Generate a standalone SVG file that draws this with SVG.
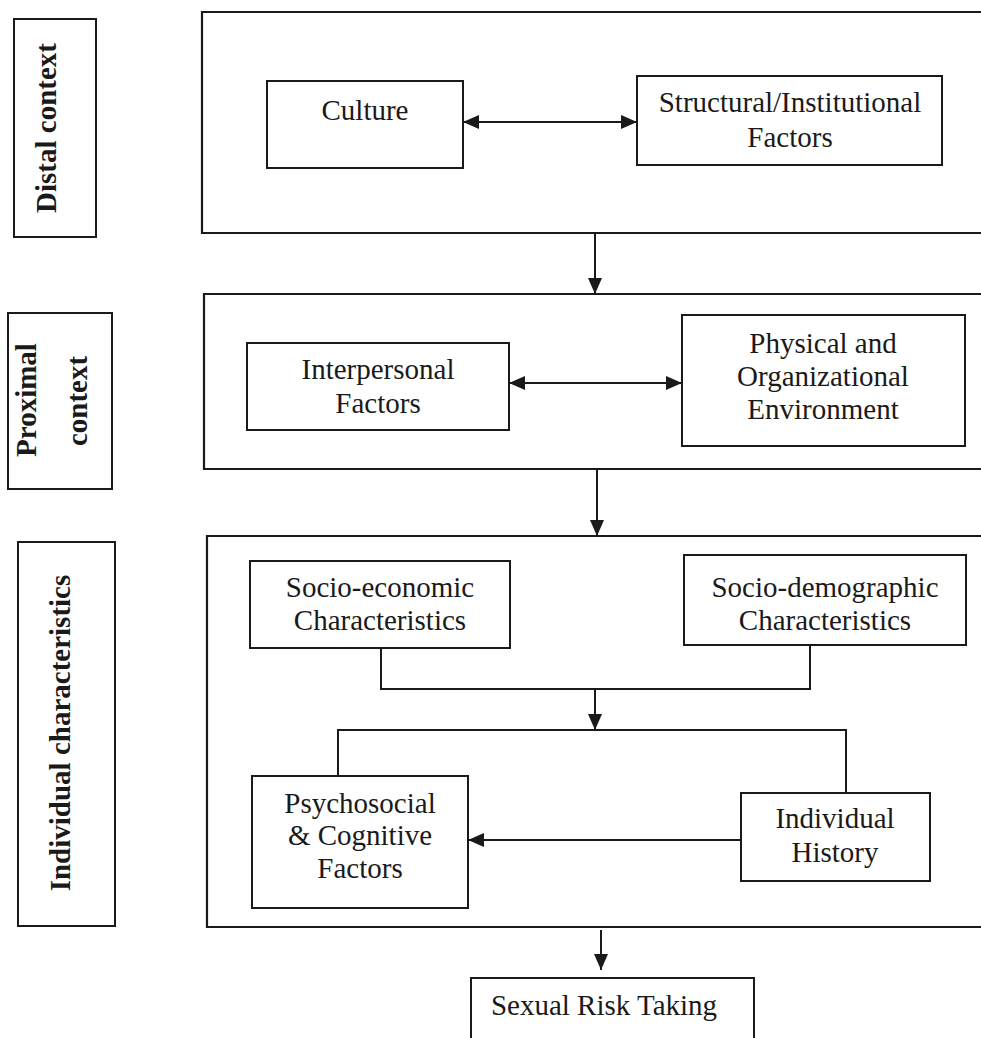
<svg xmlns="http://www.w3.org/2000/svg" width="981" height="1038" viewBox="0 0 981 1038">
<style>
.box{fill:#fff;stroke:#1a1a1a;stroke-width:2}
.panel{fill:none;stroke:#1a1a1a;stroke-width:2.2}
.t{font-family:"Liberation Serif","Times New Roman",serif;font-size:29px;fill:#1a1a1a;text-anchor:middle}
.lb{font-family:"Liberation Serif","Times New Roman",serif;font-size:29px;font-weight:bold;fill:#1a1a1a;text-anchor:middle}
.c{fill:none;stroke:#1a1a1a;stroke-width:2}
</style>
<defs>
<marker id="ah" viewBox="0 0 16 14" refX="16" refY="7" markerWidth="16" markerHeight="14" markerUnits="userSpaceOnUse" orient="auto-start-reverse">
<path d="M0,0 L16,7 L0,14 Z" fill="#1a1a1a"/>
</marker>
</defs>
<g id="labels">
<g id="label-distal"><rect class="box" x="14" y="19" width="82" height="218"/><text class="lb" transform="translate(56,128) rotate(-90)">Distal context</text></g>
<g id="label-proximal"><rect class="box" x="8" y="313" width="104" height="176"/><text class="lb" transform="translate(36,400) rotate(-90)">Proximal</text><text class="lb" transform="translate(87,401) rotate(-90)">context</text></g>
<g id="label-individual"><rect class="box" x="18" y="542" width="97" height="384"/><text class="lb" transform="translate(70,733) rotate(-90)">Individual characteristics</text></g>
</g>
<g id="panels">
<path id="panel-distal" class="panel" d="M985,12 H202 V233 H985"/>
<path id="panel-proximal" class="panel" d="M985,294 H204 V469 H985"/>
<path id="panel-individual" class="panel" d="M985,536 H207 V927 H985"/>
</g>
<g id="culture"><rect class="box" x="267" y="81" width="196" height="87"/><text class="t" x="365" y="120">Culture</text></g>
<g id="structural"><rect class="box" x="637" y="76" width="305" height="89"/><text class="t" x="790" y="112">Structural/Institutional</text><text class="t" x="790" y="147">Factors</text></g>
<g id="interpersonal"><rect class="box" x="247" y="343" width="262" height="87"/><text class="t" x="378" y="379">Interpersonal</text><text class="t" x="378" y="413">Factors</text></g>
<g id="physical"><rect class="box" x="682" y="315" width="283" height="131"/><text class="t" x="823" y="353">Physical and</text><text class="t" x="823" y="386">Organizational</text><text class="t" x="823" y="419">Environment</text></g>
<g id="socioeconomic"><rect class="box" x="250" y="561" width="260" height="87"/><text class="t" x="380" y="597">Socio-economic</text><text class="t" x="380" y="630">Characteristics</text></g>
<g id="sociodemographic"><rect class="box" x="684" y="555" width="282" height="90"/><text class="t" x="825" y="597">Socio-demographic</text><text class="t" x="825" y="630">Characteristics</text></g>
<g id="psychosocial"><rect class="box" x="252" y="776" width="216" height="132"/><text class="t" x="360" y="813">Psychosocial</text><text class="t" x="360" y="845">&amp; Cognitive</text><text class="t" x="360" y="878">Factors</text></g>
<g id="history"><rect class="box" x="741" y="793" width="189" height="88"/><text class="t" x="835" y="828">Individual</text><text class="t" x="835" y="862">History</text></g>
<g id="sexualrisk"><rect class="box" x="471" y="978" width="283" height="70"/><text class="t" x="604" y="1015">Sexual Risk Taking</text></g>
<g id="connectors">
<path class="c" d="M463,122 H637" marker-start="url(#ah)" marker-end="url(#ah)"/>
<path class="c" d="M509,383 H682" marker-start="url(#ah)" marker-end="url(#ah)"/>
<path class="c" d="M595,233 V294" marker-end="url(#ah)"/>
<path class="c" d="M597,469 V536" marker-end="url(#ah)"/>
<path class="c" d="M381,648 V689 H810 V645"/>
<path class="c" d="M595,689 V730" marker-end="url(#ah)"/>
<path class="c" d="M338,776 V730 H846 V793"/>
<path class="c" d="M741,840 H468" marker-end="url(#ah)"/>
<path class="c" d="M601,930 V970" marker-end="url(#ah)"/>
</g>
</svg>
